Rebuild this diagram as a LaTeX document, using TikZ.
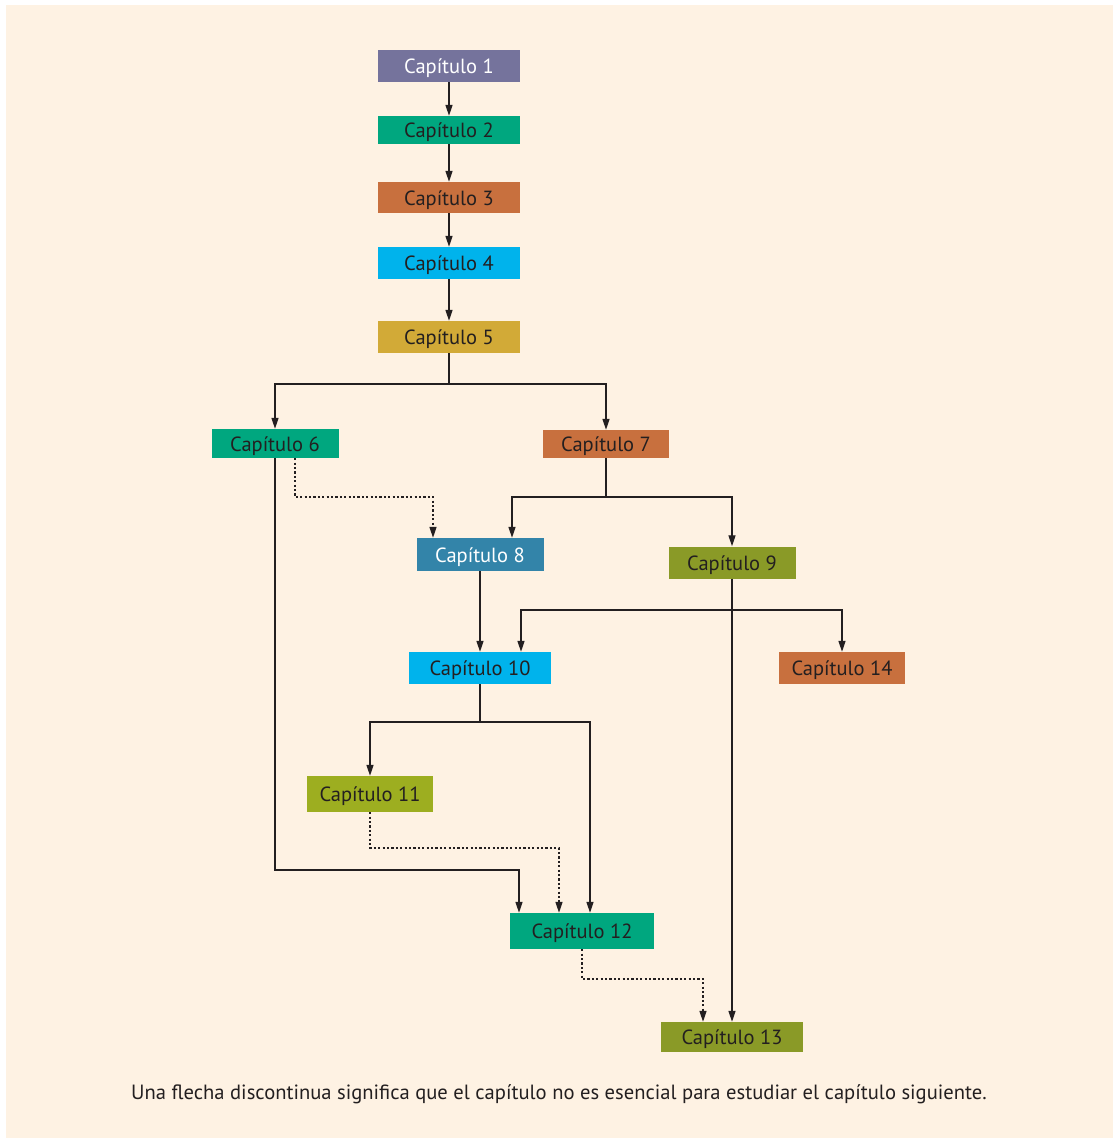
\documentclass[tikz,border=0pt]{standalone}
\usepackage{fontspec}
\setmainfont{PT Sans}
\usetikzlibrary{arrows.meta}
\definecolor{paper}{HTML}{FEF2E3}
\definecolor{ink}{HTML}{231F20}
\definecolor{cpurple}{HTML}{75739C}
\definecolor{cgreen}{HTML}{00A77F}
\definecolor{corange}{HTML}{C8703E}
\definecolor{ccyan}{HTML}{00B3EC}
\definecolor{cmustard}{HTML}{D2AA37}
\definecolor{cblue}{HTML}{3384A9}
\definecolor{colive}{HTML}{8A9A27}
\definecolor{cyellowgreen}{HTML}{9DAE20}
\tikzset{
  chap/.style={rectangle, inner sep=0pt, text=ink, text height=15pt, text depth=0pt,
    font=\fontsize{20.5}{22}\selectfont},
  arr/.style={draw=ink, line width=1.3pt, -{Triangle[length=11pt,width=7pt]}},
  optarr/.style={arr, dash pattern=on 2.2pt off 2.2pt},
}
\begin{document}
\begin{tikzpicture}[x=1pt, y=-1pt]
  \useasboundingbox (0,0) rectangle (1113,1138);
  \fill[paper] (6,5) rectangle (1113,1138);

  % chapter boxes
  \node[chap, fill=cpurple, text=white, minimum width=142pt, minimum height=32pt] (c1) at (449,66) {Capítulo 1};
  \node[chap, fill=cgreen, minimum width=142pt, minimum height=28pt] (c2) at (449,130) {Capítulo 2};
  \node[chap, fill=corange, minimum width=142pt, minimum height=31pt] (c3) at (449,197.5) {Capítulo 3};
  \node[chap, fill=ccyan, minimum width=142pt, minimum height=32pt] (c4) at (449,263) {Capítulo 4};
  \node[chap, fill=cmustard, minimum width=142pt, minimum height=32pt] (c5) at (449,337) {Capítulo 5};
  \node[chap, fill=cgreen, minimum width=127pt, minimum height=29pt] (c6) at (275,443.5) {Capítulo 6};
  \node[chap, fill=corange, minimum width=126pt, minimum height=28pt] (c7) at (606,444) {Capítulo 7};
  \node[chap, fill=cblue, text=white, minimum width=127pt, minimum height=33pt] (c8) at (480,554.5) {Capítulo 8};
  \node[chap, fill=colive, minimum width=127pt, minimum height=32pt] (c9) at (732,562.5) {Capítulo 9};
  \node[chap, fill=ccyan, minimum width=142pt, minimum height=32pt] (c10) at (480,668) {Capítulo 10};
  \node[chap, fill=corange, minimum width=126pt, minimum height=32pt] (c14) at (842,668) {Capítulo 14};
  \node[chap, fill=cyellowgreen, minimum width=126pt, minimum height=36pt] (c11) at (370,794) {Capítulo 11};
  \node[chap, fill=cgreen, minimum width=144pt, minimum height=36pt] (c12) at (582,931) {Capítulo 12};
  \node[chap, fill=colive, minimum width=142pt, minimum height=30pt] (c13) at (732,1037) {Capítulo 13};

  % branch points
  \coordinate (b5) at (449,384);
  \coordinate (b7) at (606,497);
  \coordinate (b9) at (732,610);
  \coordinate (b10) at (480,722);

  % straight chain
  \draw[arr] (c1) -- (c2);
  \draw[arr] (c2) -- (c3);
  \draw[arr] (c3) -- (c4);
  \draw[arr] (c4) -- (c5);

  % solid dependencies
  \draw[arr] (c5.south) -- (b5) -| (c6.north);
  \draw[arr] (b5) -| (c7.north);
  \draw[arr] (c7.south) -- (b7) -| ([xshift=32pt]c8.north);
  \draw[arr] (b7) -| (c9.north);
  \draw[arr] (c8.south) -- (c8.south |- c10.north);
  \draw[arr] (c9.south) -- (c9.south |- c13.north);
  \draw[arr] (b9) -| ([xshift=41pt]c10.north);
  \draw[arr] (b9) -| (c14.north);
  \draw[arr] (c10.south) -- (b10) -| (c11.north);
  \draw[arr] (b10) -| ([xshift=8pt]c12.north);
  \draw[arr] (c6.south) -- (275,870) -| ([xshift=-63pt]c12.north);

  % optional dependencies
  \draw[optarr] ([xshift=20pt]c6.south) |- (433,497) -- ([xshift=-47pt]c8.north);
  \draw[optarr] (c11.south) |- (559,848) -- ([xshift=-23pt]c12.north);
  \draw[optarr] (c12.south) |- (703,979) -- ([xshift=-29pt]c13.north);

  % legend
  \node[text=ink, font=\fontsize{20.6}{22}\selectfont, inner sep=0pt] (legend) at (559,1094)
    {Una flecha discontinua significa que el capítulo no es esencial para estudiar el capítulo siguiente.};
\end{tikzpicture}
\end{document}
